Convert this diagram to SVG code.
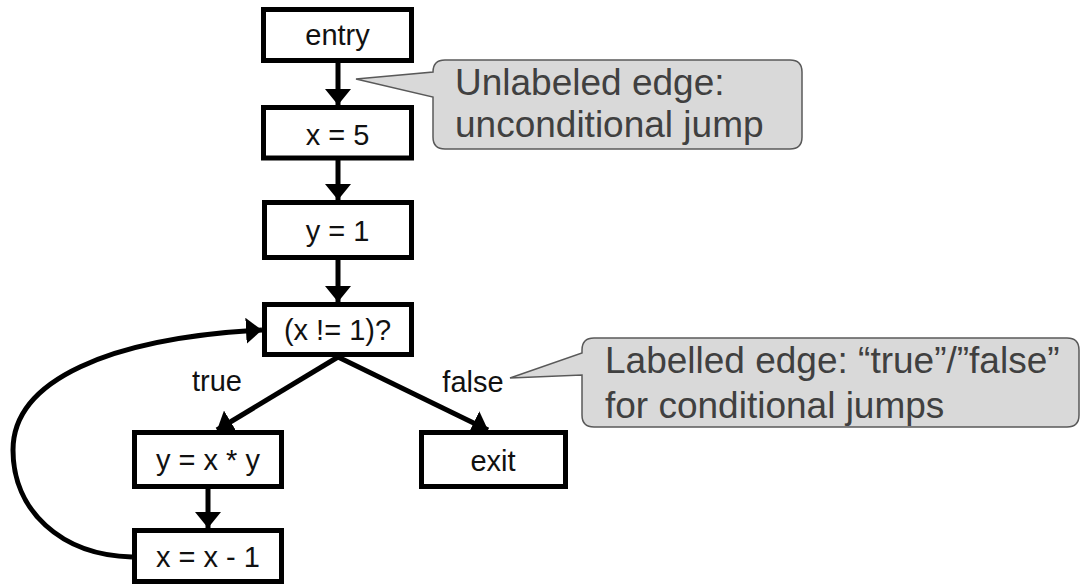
<svg xmlns="http://www.w3.org/2000/svg" width="1081" height="585" viewBox="0 0 1081 585">
<style>
.box{fill:#fff;stroke:#000;stroke-width:5}
.lbl{font-family:"Liberation Sans",Arial,sans-serif;font-size:29px;fill:#111;text-anchor:middle}
.edge{fill:none;stroke:#000;stroke-width:5}
.call{fill:#d9d9d9;stroke:#595959;stroke-width:1.5}
.ctxt{font-family:"Liberation Sans",Arial,sans-serif;font-size:37px;fill:#404040}
</style>
<defs>
<marker id="ah" viewBox="0 0 16 26" refX="16" refY="13" markerWidth="16" markerHeight="26" markerUnits="userSpaceOnUse" orient="auto">
<path d="M0,0 L16,13 L0,26 Z" fill="#000"/>
</marker>
</defs>
<rect width="1081" height="585" fill="#fff"/>
<g id="connectors">
<line class="edge" x1="338" y1="63" x2="338" y2="105" marker-end="url(#ah)"/>
<line class="edge" x1="338" y1="160" x2="338" y2="200" marker-end="url(#ah)"/>
<line class="edge" x1="338" y1="257" x2="338" y2="302" marker-end="url(#ah)"/>
<line class="edge" x1="338" y1="357" x2="217" y2="430" marker-end="url(#ah)"/>
<line class="edge" x1="338" y1="357" x2="488" y2="430" marker-end="url(#ah)"/>
<line class="edge" x1="208" y1="489" x2="208" y2="528" marker-end="url(#ah)"/>
<path class="edge" stroke-width="4.5" d="M132,557 C60,555 13,510 13,450 C13,380 110,338 262,330" marker-end="url(#ah)"/>
<text class="lbl" x="217" y="391">true</text>
<text class="lbl" x="473" y="392">false</text>
</g>
<g id="entry"><rect class="box" x="263.5" y="9.5" width="148" height="51"/><text class="lbl" x="337.5" y="45">entry</text></g>
<g id="x5"><rect class="box" x="263.5" y="107.5" width="148" height="50.5"/><text class="lbl" x="337.5" y="145">x = 5</text></g>
<g id="y1"><rect class="box" x="264.5" y="202.5" width="147" height="55"/><text class="lbl" x="337.5" y="241">y = 1</text></g>
<g id="cond"><rect class="box" x="264.5" y="304.5" width="147" height="50"/><text class="lbl" x="337.5" y="340">(x != 1)?</text></g>
<g id="yxy"><rect class="box" x="134.5" y="432.5" width="147" height="54"/><text class="lbl" x="208" y="470">y = x * y</text></g>
<g id="exit"><rect class="box" x="421.5" y="432.5" width="144" height="54"/><text class="lbl" x="493" y="471">exit</text></g>
<g id="xx1"><rect class="box" x="134.5" y="530.5" width="147" height="51"/><text class="lbl" x="208" y="567">x = x - 1</text></g>
<g id="callout1">
<path class="call" d="M445,60 H790 Q802,60 802,72 V137 Q802,149 790,149 H445 Q433,149 433,137 V97 L356,79 L433,72 Q433,60 445,60 Z"/>
<text class="ctxt" x="455" y="95">Unlabeled edge:</text>
<text class="ctxt" x="455" y="137">unconditional jump</text>
</g>
<g id="callout2">
<path class="call" d="M594,338 H1067 Q1079,338 1079,350 V415 Q1079,427 1067,427 H594 Q582,427 582,415 V375 L510,378 L582,353 V350 Q582,338 594,338 Z"/>
<text class="ctxt" x="605" y="373">Labelled edge: “true”/”false”</text>
<text class="ctxt" x="605" y="418">for conditional jumps</text>
</g>
</svg>
